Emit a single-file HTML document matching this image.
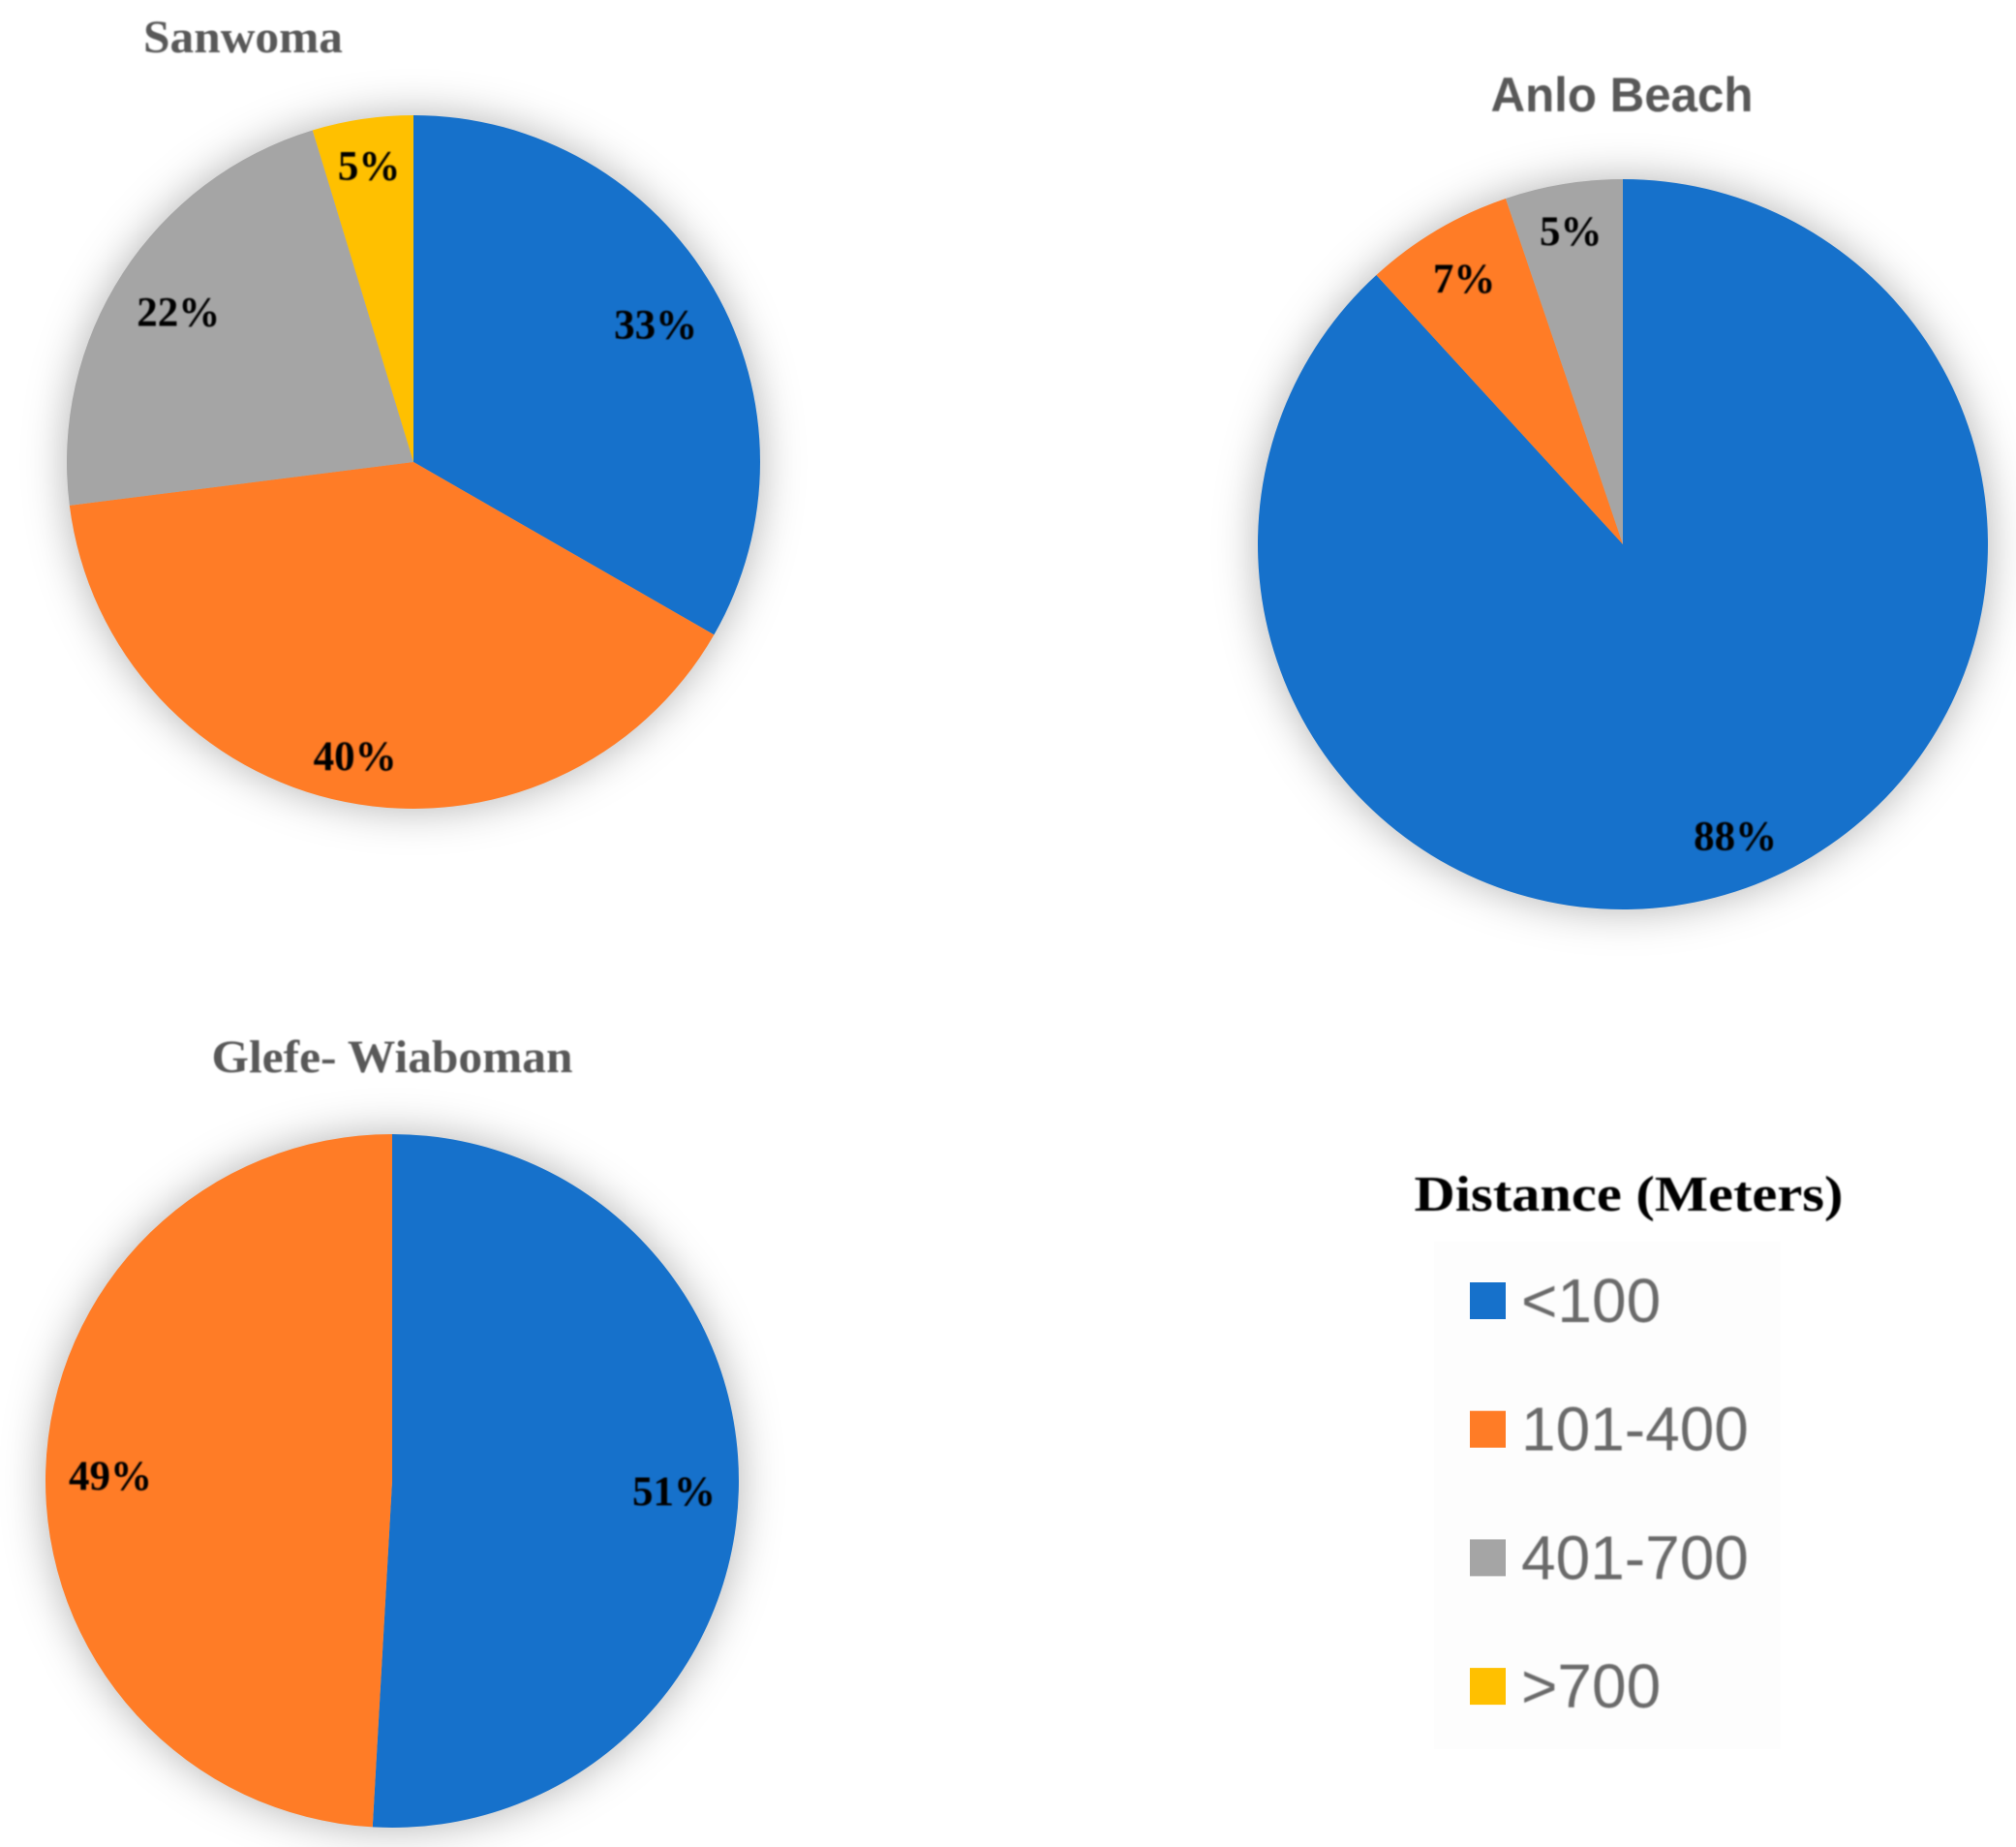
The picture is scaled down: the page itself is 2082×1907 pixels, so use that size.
<!DOCTYPE html>
<html lang="en">
<head>
<meta charset="utf-8">
<title>Distance (Meters) pie charts</title>
<style>
  html, body { margin: 0; padding: 0; background: #ffffff; }
  svg { display: block; }
  .serif { font-family: "Liberation Serif", serif; font-weight: 700; }
  .sans { font-family: "Liberation Sans", sans-serif; }
</style>
</head>
<body>
<svg id="figure" xmlns="http://www.w3.org/2000/svg" width="2082" height="1907" viewBox="0 0 2082 1907">
  <defs>
    <filter id="pie-shadow" x="-15%" y="-15%" width="130%" height="130%" color-interpolation-filters="sRGB">
      <feDropShadow dx="0" dy="0" stdDeviation="22" flood-color="#000000" flood-opacity="0.3"/>
    </filter>
    <filter id="soft" x="-5%" y="-20%" width="110%" height="140%">
      <feGaussianBlur stdDeviation="0.9"/>
    </filter>
  </defs>
  <rect x="0" y="0" width="2082" height="1907" fill="#ffffff"/>
  <rect x="1481" y="1282" width="358" height="524" fill="#fdfdfd"/>

  <text class="serif" x="251" y="54" text-anchor="middle" font-size="48" fill="#595959" textLength="206" lengthAdjust="spacingAndGlyphs" filter="url(#soft)">Sanwoma</text>
  <text class="sans" x="1675" y="115" text-anchor="middle" font-size="50" font-weight="700" fill="#595959" textLength="271" lengthAdjust="spacingAndGlyphs" filter="url(#soft)">Anlo Beach</text>
  <text class="serif" x="405" y="1107" text-anchor="middle" font-size="48" fill="#595959" textLength="373" lengthAdjust="spacingAndGlyphs" filter="url(#soft)">Glefe- Wiaboman</text>
  <text class="serif" x="1682" y="1250" text-anchor="middle" font-size="52" fill="#000000" textLength="443" lengthAdjust="spacingAndGlyphs" filter="url(#soft)">Distance (Meters)</text>

  <g id="pies"></g>
  <g id="legend"></g>
</svg>

<script>
// Chart data (slice shares; printed labels are the rounded values)
const categories = ['<100', '101-400', '401-700', '>700'];
const sanwomaValues = [33.3, 39.7, 22.3, 4.7];
const anloBeachValues = [88.2, 6.6, 5.2, 0];
const glefeWiabomanValues = [50.9, 49.1, 0, 0];
const sliceColors = ['#1671cb', '#ff7c26', '#a5a5a5', '#ffc000'];

const SVG_NS = 'http://www.w3.org/2000/svg';
const piesLayer = document.getElementById('pies');
const legendLayer = document.getElementById('legend');

function angleScale(value, total) {
  return (value / total) * Math.PI * 2;
}

function polar(cx, cy, r, angle) {
  return [cx + r * Math.sin(angle), cy - r * Math.cos(angle)];
}

function labelRadius(r, angle, w, h, margin) {
  // Inside-end placement: push the label outward until its box nears the rim.
  let lo = 0, hi = r;
  for (let i = 0; i < 30; i++) {
    const t = (lo + hi) / 2;
    const x = Math.abs(t * Math.sin(angle)) + w / 2;
    const y = Math.abs(t * Math.cos(angle)) + h / 2;
    if (Math.hypot(x, y) < r - margin) lo = t; else hi = t;
  }
  return lo;
}

function drawPie(name, values, cx, cy, r) {
  const total = values.reduce((a, b) => a + b, 0);
  const group = document.createElementNS(SVG_NS, 'g');
  
  
  group.setAttribute('filter', 'url(#pie-shadow)');
  piesLayer.appendChild(group);

  const labelGroup = document.createElementNS(SVG_NS, 'g');
  
  
  labelGroup.setAttribute('filter', 'url(#soft)');
  piesLayer.appendChild(labelGroup);

  let start = 0;
  values.forEach((value, i) => {
    if (value <= 0) return;
    const sweep = angleScale(value, total);
    const end = start + sweep;
    const p0 = polar(cx, cy, r, start);
    const p1 = polar(cx, cy, r, end);
    const large = sweep > Math.PI ? 1 : 0;

    const slice = document.createElementNS(SVG_NS, 'path');
    slice.setAttribute('d', 'M' + cx + ' ' + cy + 'L' + p0[0] + ' ' + p0[1] + 'A' + r + ' ' + r + ' 0 ' + large + ' 1 ' + p1[0] + ' ' + p1[1] + 'Z');
    slice.setAttribute('fill', sliceColors[i]);
    
    
    group.appendChild(slice);

    const label = document.createElementNS(SVG_NS, 'text');
    label.textContent = Math.round(value) + '%';
    label.setAttribute('class', 'serif');
    label.setAttribute('font-size', '43');
    label.setAttribute('fill', '#000000');
    label.setAttribute('text-anchor', 'middle');
    
    
    labelGroup.appendChild(label);

    const mid = start + sweep / 2;
    const w = label.getComputedTextLength();
    const t = labelRadius(r, mid, w, 35, 23);
    const pos = polar(cx, cy, t, mid);
    label.setAttribute('x', pos[0]);
    label.setAttribute('y', pos[1] + 17);

    start = end;
  });
}

function drawLegend() {
  const rowCenter = (i) => 1343 + i * 132.7;
  categories.forEach((category, i) => {
    const entry = document.createElementNS(SVG_NS, 'g');
    
    
    legendLayer.appendChild(entry);

    const swatch = document.createElementNS(SVG_NS, 'rect');
    swatch.setAttribute('x', 1518);
    swatch.setAttribute('y', rowCenter(i) - 19);
    swatch.setAttribute('width', 37);
    swatch.setAttribute('height', 38);
    swatch.setAttribute('fill', sliceColors[i]);
    
    
    entry.appendChild(swatch);

    const text = document.createElementNS(SVG_NS, 'text');
    text.textContent = category;
    text.setAttribute('class', 'sans');
    text.setAttribute('x', 1571);
    text.setAttribute('y', rowCenter(i) + 22);
    text.setAttribute('font-size', '64');
    text.setAttribute('fill', '#6a6a6a');
    text.setAttribute('filter', 'url(#soft)');
    
    
    entry.appendChild(text);
  });
}

drawPie('sanwoma', sanwomaValues, 427, 477, 358);
drawPie('anlo-beach', anloBeachValues, 1676, 562, 377);
drawPie('glefe-wiaboman', glefeWiabomanValues, 405, 1529, 358);
drawLegend();
</script>
</body>
</html>
